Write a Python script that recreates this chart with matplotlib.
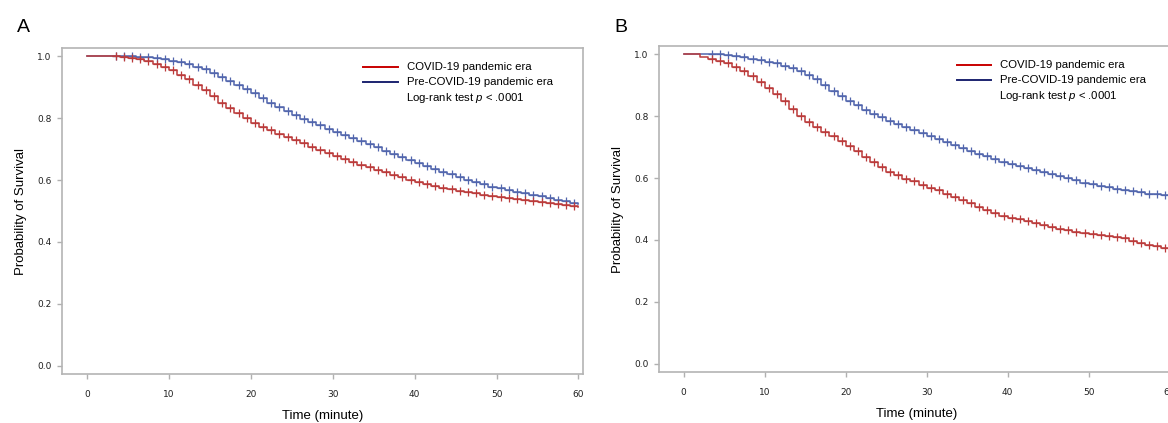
import numpy as np
import matplotlib as mpl
mpl.use('Agg')
import matplotlib.pyplot as plt

plt.rcParams['font.family'] = ['Liberation Sans', 'DejaVu Sans']
plt.rcParams['mathtext.fontset'] = 'custom'
plt.rcParams['mathtext.it'] = 'Liberation Sans:italic'

# time grid (minutes)
minutes = list(range(0, 61))

# panel A: survival, one value per minute
surv_A_covid = [1.0, 1.0, 1.0, 1.0, 0.998, 0.995, 0.99, 0.983, 0.975, 0.965,
                0.955, 0.94, 0.925, 0.908, 0.89, 0.87, 0.85, 0.832, 0.815, 0.80,
                0.785, 0.772, 0.76, 0.749, 0.738, 0.728, 0.718, 0.708, 0.698, 0.687,
                0.676, 0.667, 0.658, 0.65, 0.641, 0.633, 0.625, 0.617, 0.61, 0.6,
                0.592, 0.586, 0.58, 0.575, 0.57, 0.565, 0.561, 0.557, 0.553, 0.549,
                0.545, 0.541, 0.538, 0.535, 0.532, 0.529, 0.526, 0.523, 0.52, 0.516,
                0.513]
surv_A_pre = [1.0, 1.0, 1.0, 1.0, 1.0, 1.0, 0.998, 0.996, 0.993, 0.99,
              0.985, 0.98, 0.974, 0.966, 0.957, 0.946, 0.934, 0.92, 0.906, 0.893,
              0.88, 0.865, 0.85, 0.836, 0.822, 0.809, 0.797, 0.786, 0.776, 0.766,
              0.756, 0.745, 0.735, 0.725, 0.715, 0.705, 0.695, 0.685, 0.674, 0.664,
              0.654, 0.645, 0.636, 0.627, 0.618, 0.609, 0.601, 0.593, 0.586, 0.579,
              0.573, 0.567, 0.562, 0.557, 0.552, 0.547, 0.542, 0.537, 0.532, 0.527,
              0.523]

# panel B
surv_B_covid = [1.0, 1.0, 0.99, 0.985, 0.978, 0.97, 0.958, 0.945, 0.928, 0.91,
                0.89, 0.87, 0.847, 0.823, 0.8, 0.78, 0.765, 0.75, 0.735, 0.72,
                0.702, 0.686, 0.669, 0.652, 0.636, 0.621, 0.609, 0.598, 0.589, 0.579,
                0.569, 0.56, 0.55, 0.54, 0.53, 0.519, 0.507, 0.496, 0.486, 0.479,
                0.472, 0.467, 0.462, 0.456, 0.449, 0.442, 0.436, 0.431, 0.426, 0.422,
                0.418, 0.415, 0.412, 0.409, 0.405, 0.398, 0.391, 0.385, 0.38, 0.375,
                0.37]
surv_B_pre = [1.0, 1.0, 1.0, 1.0, 1.0, 0.998, 0.995, 0.99, 0.985, 0.98,
              0.975, 0.97, 0.963, 0.955, 0.945, 0.932, 0.918, 0.9, 0.882, 0.865,
              0.85, 0.835, 0.82, 0.808, 0.796, 0.785, 0.775, 0.765, 0.755, 0.745,
              0.735, 0.726, 0.716, 0.706, 0.696, 0.687, 0.678, 0.67, 0.661, 0.653,
              0.645, 0.638, 0.632, 0.626, 0.62, 0.613, 0.607, 0.6, 0.592, 0.585,
              0.58, 0.575, 0.57, 0.566, 0.562, 0.558, 0.554, 0.55, 0.547, 0.544,
              0.541]

# censor marks: one inside each minute from 3 min on
censor_times = [m + 0.5 for m in range(3, 60)]

panels = ["A", "B"]
xticks = [0, 10, 20, 30, 40, 50, 60]
yticks = [0.0, 0.2, 0.4, 0.6, 0.8, 1.0]
legend_labels = ["COVID-19 pandemic era", "Pre-COVID-19 pandemic era"]

red_curve = "#bb3b3b"
blue_curve = "#5266ad"
red_leg = "#c80000"
blue_leg = "#1c2470"

fig = plt.figure(figsize=(11.68, 4.23), dpi=100)
W, H = 1168.0, 423.0

# axes boxes in pixels: left, top, right, bottom
boxes = [(62, 48, 583, 374), (659, 46, 1174, 372)]
data = [(surv_A_covid, surv_A_pre), (surv_B_covid, surv_B_pre)]

for i, (l, t, r, b) in enumerate(boxes):
    ax = fig.add_axes([l / W, 1 - b / H, (r - l) / W, (b - t) / H])
    covid, pre = data[i]
    for surv, col, z in [(pre, blue_curve, 2), (covid, red_curve, 3)]:
        ax.step(minutes, surv, where='post', color=col, lw=1.1, zorder=z)
        cy = [surv[int(c)] for c in censor_times]
        ax.plot(censor_times, cy, ls='none', marker='+', ms=6, mew=0.9,
                color=col, zorder=z)
    ax.set_xlim(-3.05, 60.55)
    ax.set_ylim(-0.026, 1.026)
    ax.set_xticks(xticks)
    ax.set_yticks(yticks)
    ax.set_xticklabels([str(x) for x in xticks], family='DejaVu Sans')
    ax.set_yticklabels(["%.1f" % y for y in yticks], family='DejaVu Sans')
    ax.tick_params(axis='both', direction='out', length=3.5, width=1,
                   color='#b0b0b0', labelsize=6.5, labelcolor='#202020')
    ax.tick_params(axis='x', pad=8)
    ax.tick_params(axis='y', pad=4)
    for s in ax.spines.values():
        s.set_color('#b4b4b4')
        s.set_linewidth(1.2)
    ax.set_xlabel("Time (minute)", fontsize=9.5, labelpad=8)
    ax.set_ylabel("Probability of Survival", fontsize=9.5, labelpad=7)

    # legend drawn by hand
    ax.plot([0.578, 0.645], [0.942, 0.942], color=red_leg, lw=1.4,
            transform=ax.transAxes, clip_on=False)
    ax.plot([0.578, 0.645], [0.895, 0.895], color=blue_leg, lw=1.4,
            transform=ax.transAxes, clip_on=False)
    ax.text(0.663, 0.942, legend_labels[0], fontsize=8.2, va='center',
            transform=ax.transAxes)
    ax.text(0.663, 0.895, legend_labels[1], fontsize=8.2, va='center',
            transform=ax.transAxes)
    ax.text(0.661, 0.847, r"Log-rank test $\mathit{p}$ < .0001", fontsize=8.2,
            va='center', transform=ax.transAxes)

    fig.text((l - 45) / W, 1 - 27 / H, panels[i], fontsize=14, va='center')

fig.savefig("out.png", dpi=100, facecolor='white')
